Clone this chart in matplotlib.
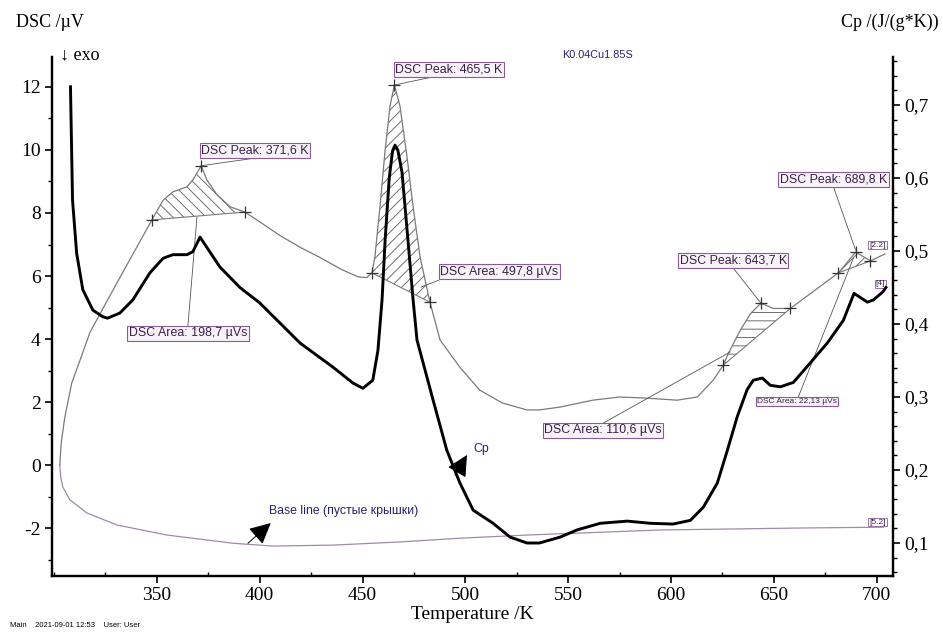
import matplotlib
matplotlib.use('Agg')
import matplotlib.pyplot as plt
from matplotlib.ticker import FixedLocator, MultipleLocator
import numpy as np

# ---------------- data ----------------
# DSC signal of sample (thin grey curve, left axis, µV)
dsc_T = [302.8, 303.5, 305.2, 308.6, 312.5, 317.4, 325.7, 335.0, 347.6, 353.0,
         357.8, 364.6, 367.5, 371.6, 374.3, 379.0, 385.5, 392.8, 400.0, 410.0,
         420.0, 429.0, 440.0, 448.0, 452.0, 454.6, 456.0, 458.5, 461.0, 463.4,
         465.5, 468.2, 471.6, 474.6, 478.0, 482.8, 487.7, 497.4, 507.0, 518.0,
         530.0, 536.0, 546.0, 562.0, 575.0, 586.5, 603.0, 612.8, 620.6, 625.4,
         627.9, 633.7, 638.6, 643.7, 649.8, 658.0, 670.0, 681.4, 689.8, 697.0,
         704.0]
dsc_V = [0.0, 0.7, 1.5, 2.6, 3.3, 4.2, 5.2, 6.3, 7.78, 8.4,
         8.67, 8.83, 9.05, 9.5, 9.05, 8.6, 8.2, 8.03, 7.72, 7.28,
         6.9, 6.6, 6.2, 5.97, 5.95, 6.1, 6.6, 8.2, 10.0, 11.4,
         12.06, 11.4, 9.8, 8.2, 6.6, 5.17, 3.97, 3.1, 2.38, 1.97,
         1.75, 1.75, 1.84, 2.06, 2.16, 2.13, 2.06, 2.16, 2.7, 3.17,
         3.55, 4.28, 4.8, 5.14, 4.97, 4.97, 5.55, 6.1, 6.76, 6.48,
         6.7]

# Base line, empty lids (thin purple curve, left axis, µV)
base_T = [302.8, 303.3, 304.3, 307.7, 316.0, 330.5, 354.9, 387.0, 406.4, 435.6,
          468.0, 497.4, 530.0, 594.8, 659.5, 703.3]
base_V = [0.0, -0.4, -0.7, -1.1, -1.52, -1.9, -2.22, -2.48, -2.57, -2.54,
          -2.44, -2.32, -2.22, -2.06, -2.0, -1.97]

# Cp (thick black curve, right axis, J/(g*K))
cp_T = [308.0, 309.0, 311.0, 314.0, 318.9, 323.7, 326.0, 332.0, 338.3, 346.6,
        353.0, 357.8, 364.6, 367.5, 371.0, 374.3, 380.7, 390.4, 400.0, 410.0,
        419.6, 435.6, 445.4, 450.2, 455.0, 457.5, 459.5, 461.0, 463.0, 464.6,
        465.8, 467.2, 469.2, 472.1, 474.6, 476.5, 484.3, 491.0, 497.4, 503.8,
        513.5, 521.8, 530.0, 536.0, 546.0, 554.4, 565.6, 578.7, 590.0, 601.0,
        609.4, 615.7, 622.5, 627.4, 632.2, 637.0, 640.0, 644.4, 648.3, 653.2,
        659.5, 667.8, 676.0, 683.8, 689.0, 695.5, 698.4, 703.0, 704.5]
cp_V = [0.725, 0.57, 0.497, 0.447, 0.419, 0.41, 0.408, 0.415, 0.433, 0.47,
        0.49, 0.495, 0.495, 0.499, 0.519, 0.505, 0.478, 0.45, 0.429, 0.401,
        0.374, 0.341, 0.319, 0.312, 0.323, 0.364, 0.433, 0.515, 0.6, 0.637,
        0.645, 0.638, 0.608, 0.515, 0.433, 0.378, 0.296, 0.227, 0.182, 0.145,
        0.127, 0.108, 0.1, 0.1, 0.108, 0.118, 0.127, 0.13, 0.127, 0.126,
        0.131, 0.149, 0.182, 0.227, 0.273, 0.31, 0.323, 0.326, 0.316, 0.314,
        0.32, 0.347, 0.374, 0.405, 0.442, 0.43, 0.433, 0.444, 0.45]

# evaluated points (+) on the DSC curve
mark_T = [347.6, 371.6, 392.8, 454.6, 465.5, 482.8, 625.4, 643.7, 658.0,
          681.4, 689.8, 697.0]
# integration ranges (start, end)
area_start = [347.6, 454.6, 625.4, 681.4]
area_end = [392.8, 482.8, 658.0, 697.0]
peak_T = [371.6, 465.5, 643.7, 689.8]
area_vals = [198.7, 497.8, 110.6, 22.13]

x_ticks = [350, 400, 450, 500, 550, 600, 650, 700]
left_ticks = [-2, 0, 2, 4, 6, 8, 10, 12]
right_ticks = [0.1, 0.2, 0.3, 0.4, 0.5, 0.6, 0.7]

# ---------------- style ----------------
SERIF = ['Liberation Serif', 'DejaVu Serif']
SANS = ['Liberation Sans', 'DejaVu Sans']
plt.rcParams['font.family'] = SERIF
plt.rcParams['hatch.linewidth'] = 0.7

GREY = '#7a7a7a'
BASEC = '#a08aa8'
TXT = '#3a2048'
BOXEC = '#8a5c96'
BOXFC = '#f8f3f9'
NAVY = '#23236e'

fig = plt.figure(figsize=(9.43, 6.32), dpi=100)
ax = fig.add_axes([0.0551, 0.0886, 0.892, 0.8212])
ax2 = ax.twinx()

ax.set_xlim(299, 708)
ax.set_ylim(-3.52, 12.95)
ax2.set_ylim(0.0548, 0.7658)

# curves
ax.plot(base_T, base_V, color=BASEC, lw=0.9, zorder=2)
ax.plot(dsc_T, dsc_V, color=GREY, lw=0.9, zorder=3)
ax2.plot(cp_T, cp_V, color='black', lw=2.1, zorder=3)

# hatched peak areas
hatches = ['\\\\\\', '///', '--', '///']
dT = np.array(dsc_T)
dV = np.array(dsc_V)
for a, b, h in zip(area_start, area_end, hatches):
    sel = (dT >= a) & (dT <= b)
    pt = list(dT[sel])
    pv = list(dV[sel])
    ax.fill(pt, pv, facecolor='none', edgecolor='#6e6e6e', hatch=h, lw=0, zorder=2)
    ax.plot([pt[0], pt[-1]], [pv[0], pv[-1]], color=GREY, lw=0.8, zorder=3)

# + markers
mark_V = np.interp(mark_T, dsc_T, dsc_V)
ax.plot(mark_T, mark_V, ls='none', marker='+', ms=8, mew=0.9, color='#333333', zorder=4)

bbox = dict(boxstyle='square,pad=0.12', fc=BOXFC, ec=BOXEC, lw=0.8)

def label(txt, x, y, lx, ly, px, py, fs=8.9):
    ax.plot([lx, px], [ly, py], color='#555555', lw=0.6, zorder=3)
    ax.text(x, y, txt, fontsize=fs, family=SANS, color=TXT, ha='center', va='center',
            bbox=bbox, zorder=6)

fmt = lambda v: ('%g' % v).replace('.', ',')
peak_V = np.interp(peak_T, dsc_T, dsc_V)

# peak labels
label('DSC Peak: %s K' % fmt(peak_T[0]), 397.7, 9.97, 398.7, 9.75, peak_T[0], peak_V[0])
label('DSC Peak: %s K' % fmt(peak_T[1]), 492.1, 12.54, 484.3, 12.32, peak_T[1], peak_V[1])
label('DSC Peak: %s K' % fmt(peak_T[2]), 630.3, 6.48, 630.3, 6.25, peak_T[2], peak_V[2])
label('DSC Peak: %s K' % fmt(peak_T[3]), 679.0, 9.05, 679.0, 8.83, 689.7, 6.83)
# area labels
label('DSC Area: %s µVs' % fmt(area_vals[0]), 365.1, 4.19, 365.1, 4.41, 369.5, 7.87)
label('DSC Area: %s µVs' % fmt(area_vals[1]), 516.4, 6.13, 487.2, 5.87, 478.5, 5.65)
label('DSC Area: %s µVs' % fmt(area_vals[2]), 567.0, 1.11, 567.0, 1.33, 628.8, 3.59)
label('DSC Area: %s µVs' % fmt(area_vals[3]), 661.4, 2.03, 661.9, 2.16, 688.7, 6.57, fs=6.0)

# curve segment ids
small_box = dict(boxstyle='square,pad=0.1', fc='white', ec=BOXEC, lw=0.6)
for s, x, y in [('[2.2]', 700.4, 6.98), ('[4]', 701.8, 5.75), ('[5.2]', 700.4, -1.81)]:
    ax.text(x, y, s, fontsize=6, family=SANS, color=TXT, ha='center', va='center',
            bbox=small_box, zorder=6)

# curve name arrows
ap = dict(arrowstyle='-|>,head_length=0.6,head_width=0.3', mutation_scale=22,
          color='black', lw=0.7, shrinkA=0, shrinkB=0)
ax.annotate('', xy=(405.4, -1.84), xytext=(394.3, -2.48), arrowprops=ap, zorder=5)
ax.text(404.5, -1.46, 'Base line (пустые крышки)', fontsize=8.8, family=SANS,
        color=NAVY, ha='left', va='center')
ax.annotate('', xy=(500.8, 0.32), xytext=(495.0, -0.32), arrowprops=ap, zorder=5)
ax.text(503.8, 0.51, 'Cp', fontsize=8.8, family=SANS, color=NAVY, ha='left', va='center')

fig.text(0.634, 0.913, 'K0.04Cu1.85S', fontsize=7.8, family=SANS, color=NAVY,
         ha='center', va='center')

# axes styling
for a_ in (ax, ax2):
    a_.spines['top'].set_visible(False)
    for sp in ('left', 'right', 'bottom'):
        a_.spines[sp].set_linewidth(1.6)

ax.xaxis.set_major_locator(FixedLocator(x_ticks))
ax.set_xticklabels([str(t) for t in x_ticks])
ax.xaxis.set_minor_locator(MultipleLocator(25))
ax.yaxis.set_major_locator(FixedLocator(left_ticks))
ax.set_yticklabels([str(t) for t in left_ticks])
ax.yaxis.set_minor_locator(MultipleLocator(1))
ax2.yaxis.set_major_locator(FixedLocator(right_ticks))
ax2.set_yticklabels([fmt(t) for t in right_ticks])
ax2.yaxis.set_minor_locator(MultipleLocator(0.02))

ax.tick_params(axis='both', which='major', labelsize=14, direction='out', length=5, width=1.2, pad=3)
ax.tick_params(axis='y', which='minor', direction='out', length=3, width=1.0)
ax.tick_params(axis='x', which='minor', direction='in', length=3, width=1.0)
ax2.tick_params(axis='y', which='major', labelsize=14, direction='out', length=5, width=1.2, pad=3)
ax2.tick_params(axis='y', which='minor', direction='out', length=3, width=1.0)

ax.set_xlabel('Temperature /K', fontsize=14, labelpad=1)
fig.text(0.053, 0.965, 'DSC /µV', fontsize=13, ha='center', va='center')
fig.text(0.085, 0.913, '↓ exo', fontsize=13, ha='center', va='center', family=SERIF)
fig.text(0.944, 0.964, 'Cp /(J/(g*K))', fontsize=13, ha='center', va='center')
fig.text(0.0106, 0.011, 'Main    2021-09-01 12:53    User: User', fontsize=5.5,
         family=SANS, ha='left', va='center')

fig.savefig('out.png', dpi=100)
